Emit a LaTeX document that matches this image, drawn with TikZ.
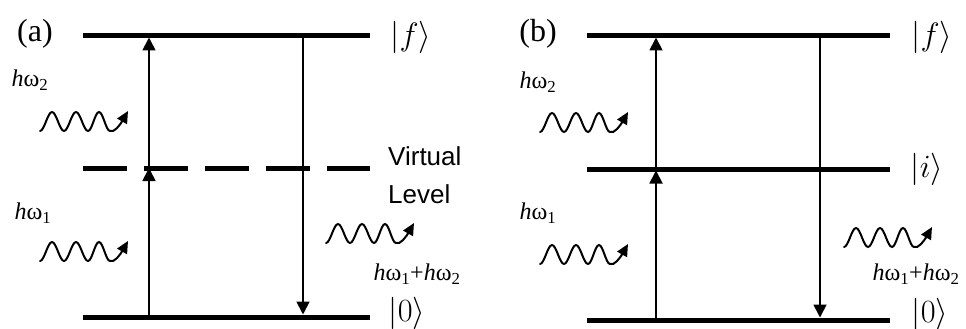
\documentclass[tikz,border=0pt]{standalone}
\usepackage{fontspec}
\usepackage{graphicx}
\setmainfont{Liberation Serif}
\newfontfamily\sansf{Liberation Sans}
\usetikzlibrary{arrows.meta}
\newcommand{\myket}[1]{\scalebox{1.3}{$|#1\rangle$}}
\begin{document}
\begin{tikzpicture}[x=1pt,y=-1pt,
  level/.style={line width=5pt},
  vlevel/.style={line width=5pt, dash pattern=on 44pt off 17pt},
  trans/.style={line width=1.8pt, -{Triangle[length=13pt,width=13pt]}},
  photon/.pic={\draw[line width=2pt, line cap=round, -{Triangle[length=12pt,width=11pt]}]
     (0,0) cos (6,-9.5) sin (12,-19) cos (18,-9.5) sin (24,0)
     cos (30,-9.5) sin (36,-19) cos (42,-9.5) sin (48,0)
     cos (53.5,-9.5) sin (59,-19) cos (64.5,-9.5) sin (70,0)
     .. controls (74,2) and (80,-6) .. (88,-20);},
  lab/.style={font=\fontsize{24}{28}\selectfont, inner sep=0pt},
  panel/.style={font=\fontsize{32}{36}\selectfont, inner sep=0pt},
  ket/.style={font=\fontsize{24}{28}\selectfont, inner sep=0pt},
  vtxt/.style={font=\sansf\fontsize{26}{30}\selectfont, inner sep=0pt, anchor=west}]
\useasboundingbox (0,0) rectangle (966,329);

% ---------- panel (a) ----------
\coordinate (aTL) at (83,36);  \coordinate (aTR) at (370,36);
\coordinate (aML) at (83,168); \coordinate (aMR) at (370,168);
\coordinate (aBL) at (83,317); \coordinate (aBR) at (370,317);
\coordinate (a0u) at (149,317); \coordinate (aiu) at (149,168); \coordinate (afu) at (149,36);
\coordinate (afd) at (303,36);  \coordinate (a0d) at (303,317);

\draw[level] (aTL) -- (aTR);
\draw[vlevel] (aML) -- (aMR);
\draw[level] (aBL) -- (aBR);
\draw[trans, shorten >=0pt] (a0u) -- (aiu);
\draw[trans, shorten >=1.5pt] (aiu) -- (afu);
\draw[trans, shorten >=2.5pt] (afd) -- (a0d);

\node[panel] (alab) at (35,34) {(a)};
\node[ket] (af) at (411,37) {\myket{f}};
\node[ket] (a0) at (407,313) {\myket{0}};
\node[vtxt] (avirt) at (388,156) {Virtual};
\node[vtxt] (alev) at (388,194) {Level};
\node[lab] (aw2) at (30,80) {\textit{h}ω\textsubscript{2}};
\node[lab] (aw1) at (33,213) {\textit{h}ω\textsubscript{1}};
\node[lab] (aw12) at (417,274) {\textit{h}ω\textsubscript{1}+\textit{h}ω\textsubscript{2}};
\pic at (40,131) {photon};
\pic at (40,261) {photon};
\pic at (326,243) {photon};

% ---------- panel (b) ----------
\coordinate (bTL) at (587,36);  \coordinate (bTR) at (890,36);
\coordinate (bML) at (587,169); \coordinate (bMR) at (890,169);
\coordinate (bBL) at (587,320); \coordinate (bBR) at (890,320);
\coordinate (b0u) at (656,320); \coordinate (biu) at (656,169); \coordinate (bfu) at (656,36);
\coordinate (bfd) at (820,36);  \coordinate (b0d) at (820,320);

\draw[level] (bTL) -- (bTR);
\draw[level] (bML) -- (bMR);
\draw[level] (bBL) -- (bBR);
\draw[trans, shorten >=1.5pt] (b0u) -- (biu);
\draw[trans, shorten >=1.5pt] (biu) -- (bfu);
\draw[trans, shorten >=2.5pt] (bfd) -- (b0d);

\node[panel] (blab) at (538,34) {(b)};
\node[ket] (bf) at (932,37) {\myket{f}};
\node[ket] (bi) at (927,169) {\myket{i}};
\node[ket] (b0) at (930,314) {\myket{0}};
\node[lab] (bw2) at (538,82) {\textit{h}ω\textsubscript{2}};
\node[lab] (bw1) at (538,213) {\textit{h}ω\textsubscript{1}};
\node[lab] (bw12) at (916,274) {\textit{h}ω\textsubscript{1}+\textit{h}ω\textsubscript{2}};
\pic at (540,132) {photon};
\pic at (540,264) {photon};
\pic at (844,247) {photon};
\end{tikzpicture}
\end{document}
